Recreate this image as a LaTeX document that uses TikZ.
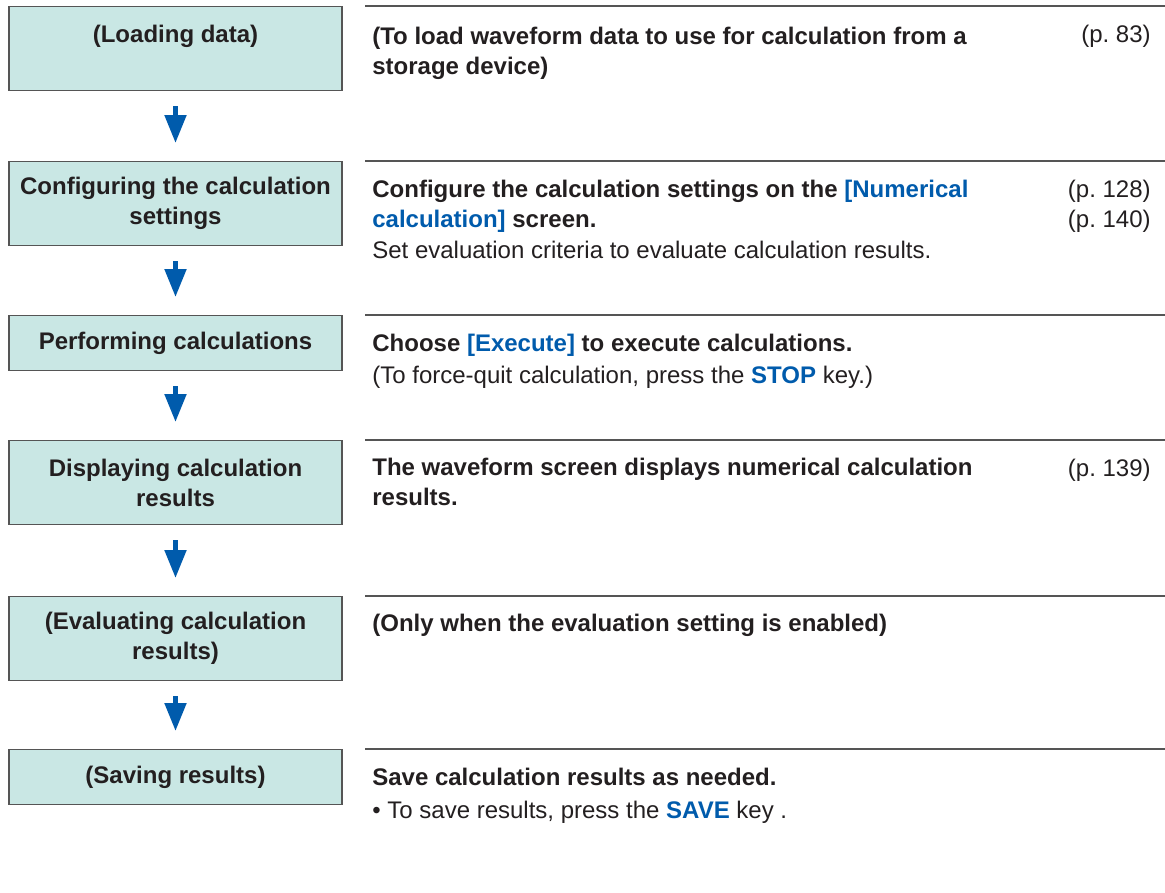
\documentclass[tikz,border=0pt]{standalone}
\usepackage{fontspec}
\setmainfont{Liberation Sans}
\usepackage{tikz}
\usepackage{xcolor}
\usetikzlibrary{positioning,arrows.meta}

\definecolor{boxfill}{RGB}{201,231,228}
\definecolor{linkblue}{RGB}{0,91,172}
\definecolor{inkgray}{RGB}{35,31,32}
\definecolor{rulegray}{RGB}{85,85,85}

\newcommand{\flowsize}{\fontsize{13.66pt}{17.07pt}\selectfont}
\newcommand{\lnk}[1]{\textcolor{linkblue}{\bfseries #1}}

\begin{document}
\begin{tikzpicture}[
          x=0.02cm, y=-0.02cm,
          stepbox/.style={draw=rulegray, line width=0.7pt, fill=boxfill, text=inkgray,
                          minimum width=6.66cm, minimum height=1.68cm, inner sep=0pt,
                          anchor=north, align=center, font=\flowsize\bfseries},
          shortbox/.style={stepbox, minimum height=1.1cm},
          flow/.style={-{Triangle[width=0.42cm,length=0.56cm]}, linkblue, line width=0.1cm,
                       shorten <=0.3cm, shorten >=0.36cm},
          rule/.style={rulegray, line width=0.6pt},
          desc/.style={anchor=base west, inner sep=0pt, align=left, text=inkgray, font=\flowsize\bfseries},
          note/.style={anchor=base west, inner sep=0pt, align=left, text=inkgray, font=\flowsize},
          pref/.style={anchor=base east, inner sep=0pt, align=right, text=inkgray, font=\flowsize}
      ]
        \useasboundingbox (0,0) rectangle (1165,892);
        \node[stepbox] (load) at (175.5,6) {(Loading data)\\\mbox{}};
        \node[stepbox] (conf) at (175.5,161) {Configuring the calculation\\settings};
        \node[shortbox] (perf) at (175.5,315) {Performing calculations};
        \node[stepbox] (disp) at (175.5,440) {Displaying calculation\\results};
        \node[stepbox] (eval) at (175.5,596) {(Evaluating calculation\\results)};
        \node[shortbox] (save) at (175.5,749) {(Saving results)};
        \draw[flow] (load) -- (conf);
        \draw[flow] (conf) -- (perf);
        \draw[flow] (perf) -- (disp);
        \draw[flow] (disp) -- (eval);
        \draw[flow] (eval) -- (save);
        \draw[rule] (365,6) -- (1165,6);
        \draw[rule] (365,161) -- (1165,161);
        \draw[rule] (365,315) -- (1165,315);
        \draw[rule] (365,440) -- (1165,440);
        \draw[rule] (365,596) -- (1165,596);
        \draw[rule] (365,749) -- (1165,749);
        \node[desc] (loadtxt) at (372,74) {(To load waveform data to use for calculation from a\\storage device)};
        \node[pref] (loadref) at (1151,43) {(p.~83)};
        \node[desc] (conftxt) at (372,227) {Configure the calculation settings on the \lnk{[Numerical}\\\lnk{calculation]} screen.};
        \node[note] (confnote) at (372,258) {Set evaluation criteria to evaluate calculation results.};
        \node[pref] (confref) at (1151,227) {(p.~128)\\(p.~140)};
        \node[desc] (perftxt) at (372,351) {Choose \lnk{[Execute]} to execute calculations.};
        \node[note] (perfnote) at (372,383) {(To force-quit calculation, press the \lnk{STOP} key.)};
        \node[desc] (disptxt) at (372,505) {The waveform screen displays numerical calculation\\results.};
        \node[pref] (dispref) at (1151,476) {(p.~139)};
        \node[desc] (evaltxt) at (372,631) {(Only when the evaluation setting is enabled)};
        \node[desc] (savetxt) at (372,785) {Save calculation results as needed.};
        \node[note] (savenote) at (372,818) {• To save results, press the \lnk{SAVE} key .};
      \end{tikzpicture}
\end{document}
